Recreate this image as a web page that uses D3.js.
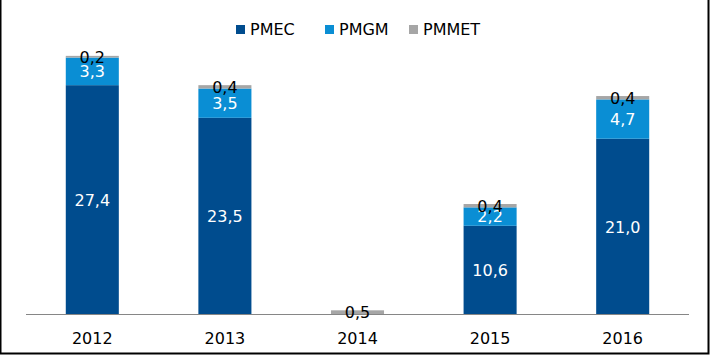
<!DOCTYPE html>
<html><head><meta charset="utf-8">
<script src="https://cdn.jsdelivr.net/npm/d3@7"></script>
<style>html,body{margin:0;padding:0;background:#fff}svg{display:block}</style>
</head><body>
<script>
const years = ["2012","2013","2014","2015","2016"];
const series = ["PMEC","PMGM","PMMET"];
const pmec = [27.4, 23.5, 0, 10.6, 21.0];
const pmgm = [3.3, 3.5, 0, 2.2, 4.7];
const pmmet = [0.2, 0.4, 0.5, 0.4, 0.4];
const colors = ["#004C8E", "#0A8ED4", "#A6A6A6"];
const labelColors = ["#fff", "#fff", "#000"];

const W = 710, H = 355;
const svg = d3.select("body").append("svg").attr("width", W).attr("height", H);
svg.append("rect").attr("width", W).attr("height", H).attr("fill", "#fff");

const x = d3.scaleBand().domain(years).range([26, 689]).paddingInner(0.6).paddingOuter(0.3);
const y = d3.scaleLinear().domain([0, 35]).range([314.5, 314.5 - 35 * 8.37]);

const rows = years.map((yr, i) => ({year: yr, PMEC: pmec[i], PMGM: pmgm[i], PMMET: pmmet[i]}));
const stacked = d3.stack().keys(series)(rows);
const fmt = v => v.toFixed(1).replace(".", ",");

stacked.forEach((s, si) => {
  const g = svg.append("g");
  g.selectAll("rect").data(s.filter(d => d[1] - d[0] > 0)).enter().append("rect")
    .attr("x", d => x(d.data.year))
    .attr("width", x.bandwidth())
    .attr("y", d => y(d[1]))
    .attr("height", d => y(d[0]) - y(d[1]))
    .attr("fill", colors[si]);
});

// axis line
svg.append("line").attr("x1", 26).attr("x2", 689).attr("y1", 314.5).attr("y2", 314.5)
  .attr("stroke", "#868686").attr("stroke-width", 1);

// labels
stacked.forEach((s, si) => {
  svg.append("g").selectAll("text").data(s.filter(d => d[1] - d[0] > 0)).enter().append("text")
    .attr("x", d => x(d.data.year) + x.bandwidth() / 2)
    .attr("y", d => (y(d[0]) + y(d[1])) / 2)
    .attr("dy", "0.37em")
    .attr("text-anchor", "middle")
    .attr("font-family", "DejaVu Sans, Verdana, sans-serif")
    .attr("font-size", 16)
    .attr("fill", labelColors[si])
    .text(d => fmt(d[1] - d[0]));
});

// x axis labels
svg.append("g").selectAll("text").data(years).enter().append("text")
  .attr("x", d => x(d) + x.bandwidth() / 2)
  .attr("y", 344)
  .attr("text-anchor", "middle")
  .attr("font-family", "DejaVu Sans, Verdana, sans-serif")
  .attr("font-size", 16)
  .attr("fill", "#000")
  .text(d => d);

// legend
const legX = [236, 325, 409];
const lg = svg.append("g").selectAll("g").data(series).enter().append("g");
lg.append("rect").attr("x", (d, i) => legX[i]).attr("y", 25).attr("width", 9).attr("height", 9)
  .attr("fill", (d, i) => colors[i]);
lg.append("text").attr("x", (d, i) => legX[i] + 14).attr("y", 35)
  .attr("font-family", "DejaVu Sans, Verdana, sans-serif").attr("font-size", 16)
  .attr("fill", "#000").text(d => d);

// border
svg.append("path").attr("d", `M0.5,0 V${H-1.5} H${W-1.5} V0`).attr("fill", "none")
  .attr("stroke", "#000").attr("stroke-width", 2);
</script>
</body></html>
